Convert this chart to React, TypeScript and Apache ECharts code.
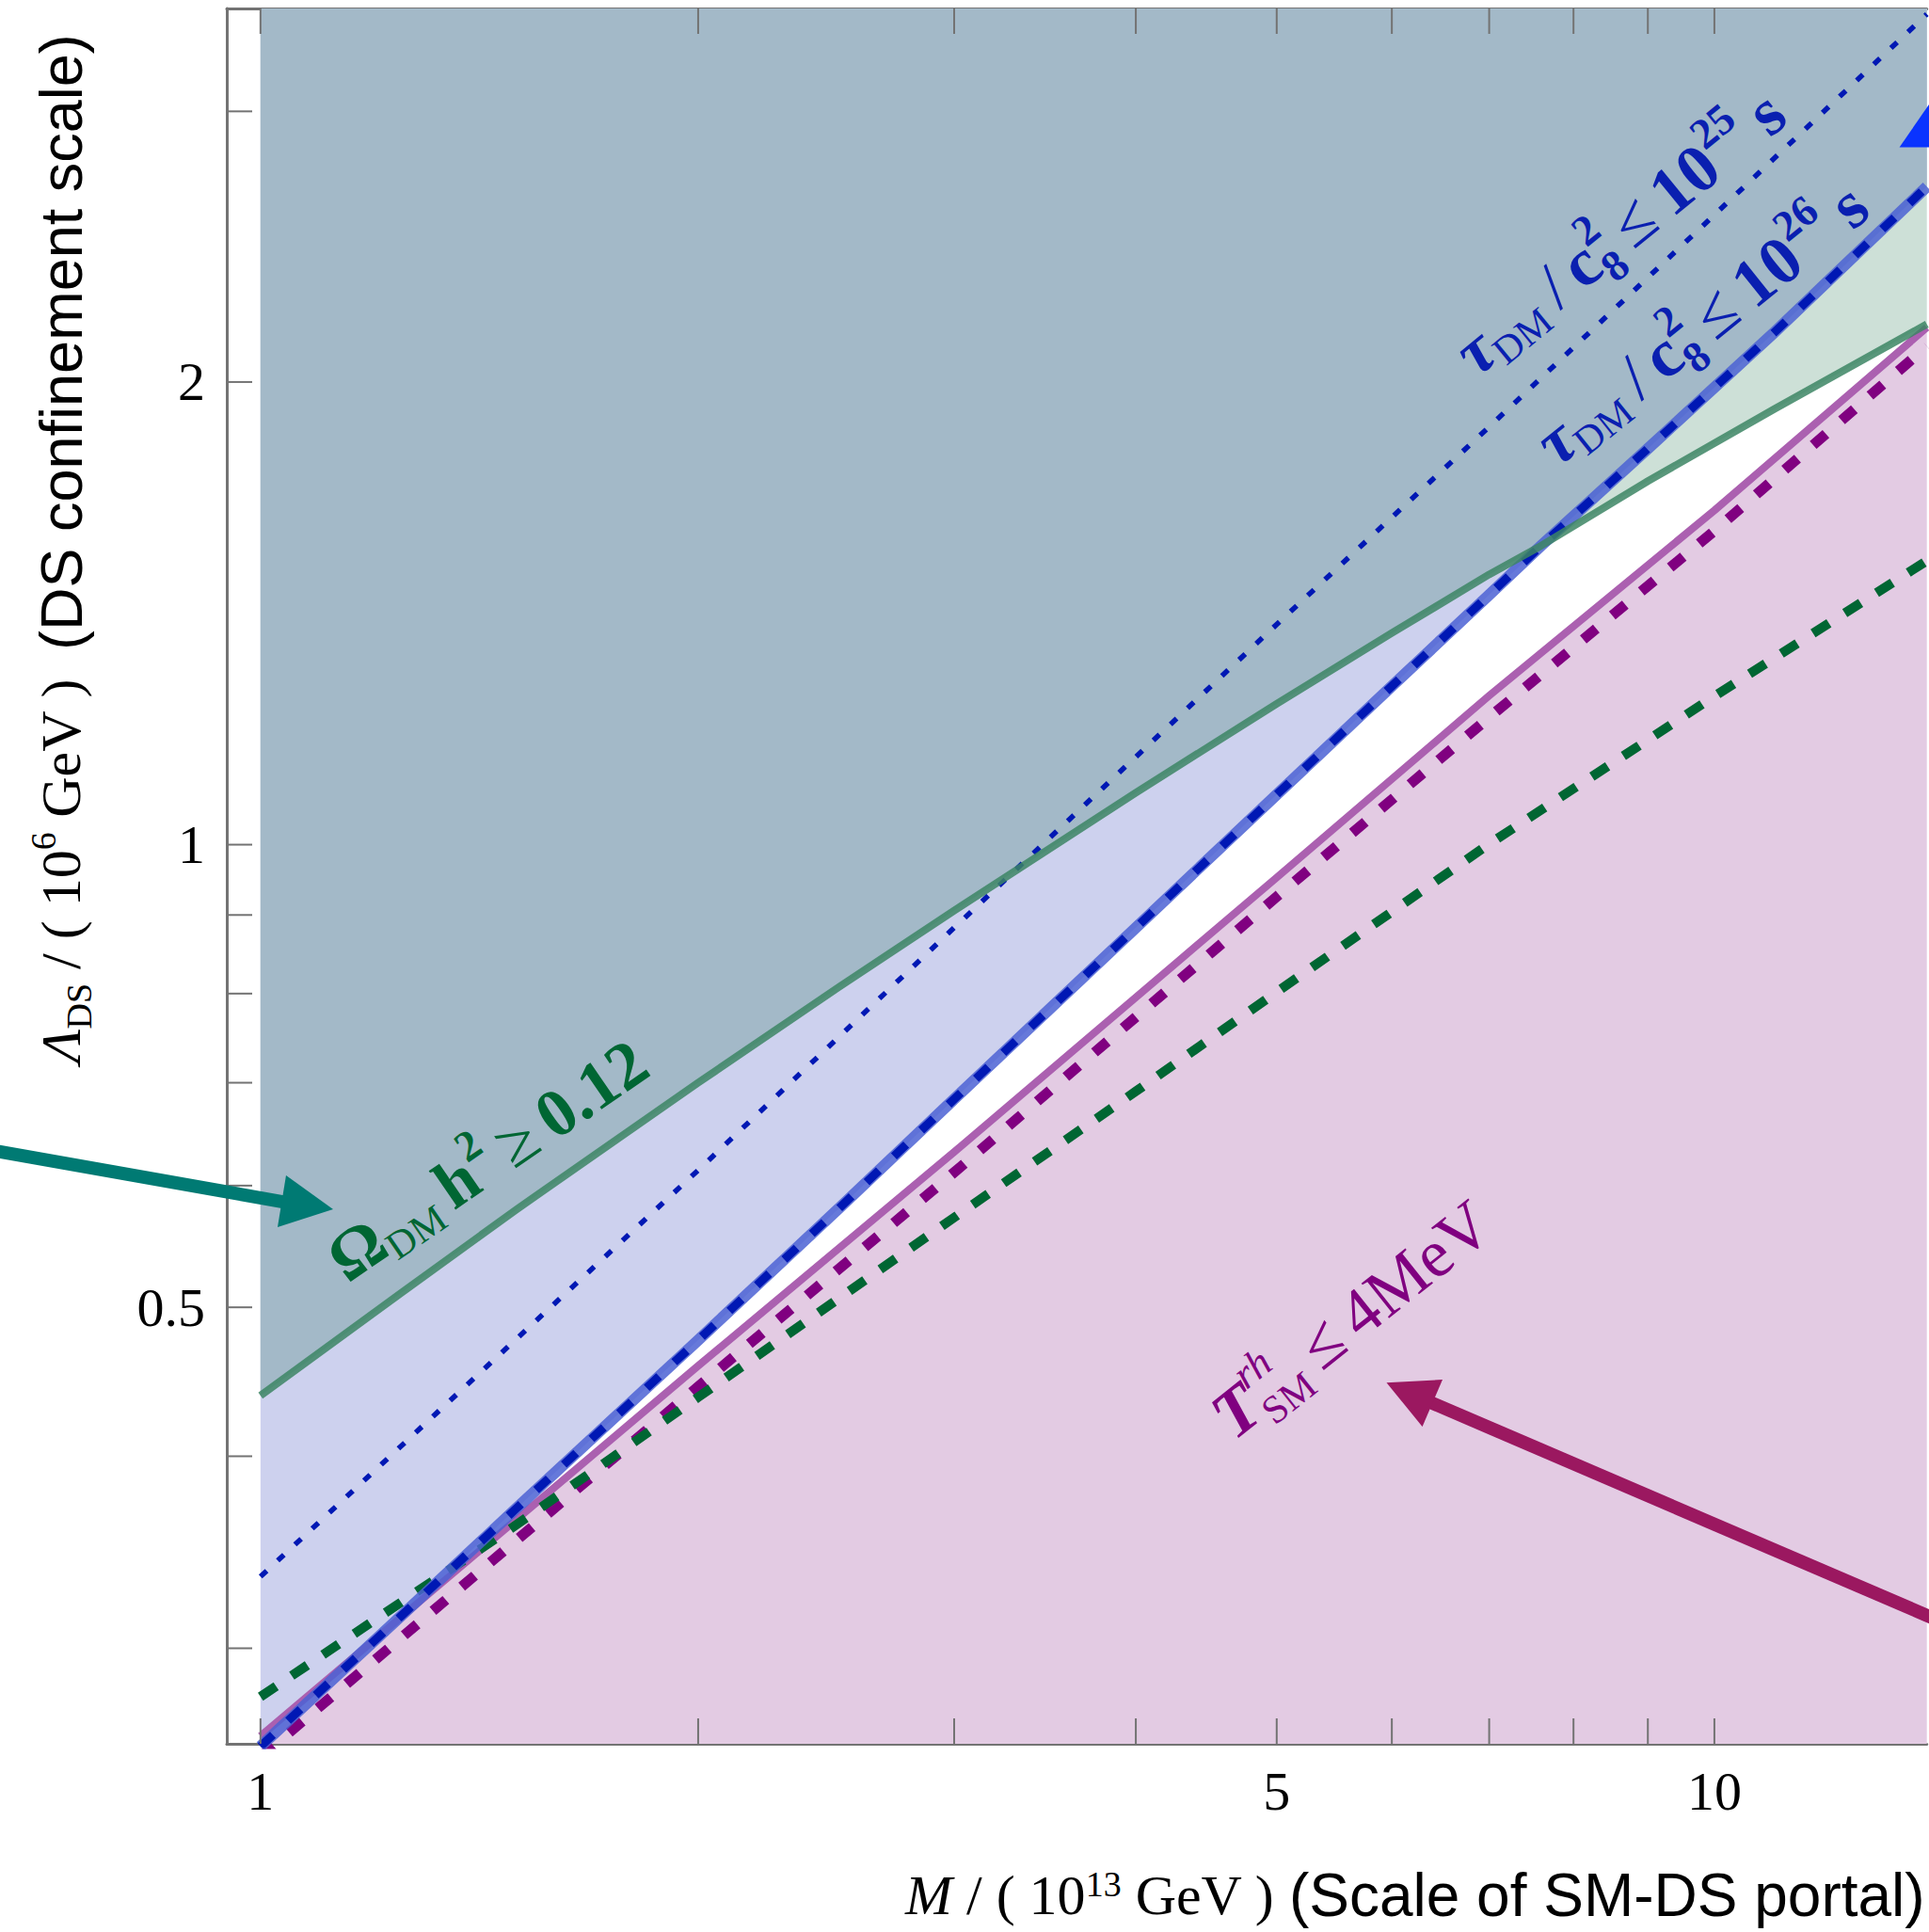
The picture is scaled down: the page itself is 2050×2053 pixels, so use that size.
import React, { useEffect, useRef } from 'react';
import * as echarts from 'echarts';

const SERIF = '"Liberation Serif", "DejaVu Serif", "Times New Roman", serif';
const SANS = '"Liberation Sans", Arial, Helvetica, sans-serif';

// axis ranges
const X_MIN = 0.948;
const X_MAX = 14;
const Y_MIN = 0.26;
const Y_MAX = 3.5;

// ticks
const xTickValues = [1, 2, 3, 4, 5, 6, 7, 8, 9, 10];
const xTickLabels = ['1', '', '', '', '5', '', '', '', '', '10'];
const yTickValues = [0.3, 0.4, 0.5, 0.6, 0.7, 0.8, 0.9, 1, 2, 3];
const yTickLabels = ['', '', '0.5', '', '', '', '', '1', '2', ''];

// relic abundance bound (green solid) and tau <= 1e26 s bound (blue dashed), same M grid
const relicX = [1, 1.25, 1.5, 2, 2.5, 3, 4, 5, 6, 7, 7.6, 9, 11, 14];
const relicY = [0.438, 0.511, 0.579, 0.7, 0.808, 0.906, 1.081, 1.235, 1.373, 1.499, 1.565, 1.724, 1.921, 2.181];
const tau26Y = [0.259, 0.315, 0.37, 0.476, 0.58, 0.683, 0.883, 1.078, 1.268, 1.454, 1.565, 1.81, 2.155, 2.68];

// tau <= 1e25 s (blue dotted)
const tau25X = [1, 2, 3, 5, 7, 10, 14];
const tau25Y = [0.334, 0.614, 0.883, 1.391, 1.87, 2.569, 3.47];

// reheating temperature bound (purple solid / purple dashed)
const bbnX = [1, 2, 3, 5, 7, 10, 14];
const bbnSolidY = [0.263, 0.458, 0.631, 0.952, 1.25, 1.65, 2.17];
const bbnDashedY = [0.255, 0.444, 0.612, 0.925, 1.21, 1.6, 2.11];

// green dashed
const greenDashX = [1, 1.5, 2, 3, 4, 5, 7, 10, 14];
const greenDashY = [0.279, 0.361, 0.437, 0.572, 0.691, 0.802, 1.001, 1.249, 1.53];

const AX = '#737373';
const TICK = 27;

const pairs = (xs: number[], ys: number[]) => xs.map((x, i) => [x, ys[i]]);
const deg = (d: number) => (d * Math.PI) / 180;

let measureCtx: CanvasRenderingContext2D | null = null;
function measure(t: string, font: string) {
  if (!measureCtx) measureCtx = document.createElement('canvas').getContext('2d');
  if (!measureCtx) return t.length * 30;
  measureCtx.font = font;
  return measureCtx.measureText(t).width;
}

type Piece = { t?: string; size?: number; bold?: boolean; italic?: boolean; dy?: number; adv?: number; gap?: number };

function mathGroup(x: number, y: number, rotDeg: number, color: string, pieces: Piece[]) {
  let cursor = 0;
  const items: any[] = [];
  for (const p of pieces) {
    if (p.gap) {
      cursor += p.gap;
      continue;
    }
    const font = `${p.italic ? 'italic ' : ''}${p.bold ? 'bold ' : ''}${p.size}px ${SERIF}`;
    const w = measure(p.t || '', font);
    items.push({ x: cursor, y: p.dy || 0, t: p.t, font });
    cursor += p.adv !== undefined ? p.adv : w;
  }
  const total = cursor;
  return {
    type: 'group',
    x,
    y,
    rotation: deg(rotDeg),
    z: 60,
    children: items.map((it) => ({
      type: 'text',
      z: 60,
      x: it.x - total / 2,
      y: it.y,
      style: {
        text: it.t,
        font: it.font,
        fill: color,
        align: 'left',
        verticalAlign: 'middle',
        textAlign: 'left',
        textVerticalAlign: 'middle',
      },
    })),
  };
}

function buildOption() {
  const overlap = relicX.map((x, i) => [x, Math.max(relicY[i], tau26Y[i])]);

  const areaSeries = (data: number[][], color: string, origin: string) => ({
    type: 'line',
    data,
    showSymbol: false,
    symbol: 'none',
    silent: true,
    lineStyle: { width: 0, opacity: 0 },
    areaStyle: { color, opacity: 1, origin },
    emphasis: { disabled: true },
  });

  const lineSeries = (data: number[][], color: string, width: number, type: any, z = 2) => ({
    type: 'line',
    data,
    showSymbol: false,
    symbol: 'none',
    silent: true,
    z,
    lineStyle: { color, width, type, cap: 'butt', join: 'round' },
    emphasis: { disabled: true },
  });

  const axisCommon = {
    type: 'log',
    logBase: 10,
    axisTick: { show: false },
    axisLabel: { show: false },
    splitLine: { show: false },
    minorTick: { show: false },
    minorSplitLine: { show: false },
  };

  const G_TXT = '#006633';
  const B_TXT = '#0a1fb0';
  const P_TXT = '#800080';

  const titleRich = (F: number, S: number, SF: number, LH: number) => ({
    n: { fontFamily: SERIF, fontSize: F, fill: '#000', lineHeight: LH },
    i: { fontFamily: SERIF, fontSize: F, fontStyle: 'italic', fill: '#000', lineHeight: LH },
    sub: { fontFamily: SERIF, fontSize: S, fill: '#000', lineHeight: S, verticalAlign: 'bottom' },
    supn: { fontFamily: SERIF, fontSize: S, fill: '#000', lineHeight: S, verticalAlign: 'top' },
    sans: { fontFamily: SANS, fontSize: SF, fill: '#000', lineHeight: LH },
  });

  const tauPieces = (exp: string): Piece[] => [
    { t: 'τ', size: 72, bold: true, italic: true },
    { t: 'DM', size: 42, dy: 20 },
    { gap: 14 },
    { t: '/', size: 72 },
    { gap: 12 },
    { t: 'c', size: 72, bold: true },
    { t: '2', size: 46, bold: true, dy: -25, adv: 0 },
    { t: '8', size: 46, bold: true, dy: 24 },
    { gap: 14 },
    { t: '≤', size: 72 },
    { gap: 14 },
    { t: '10', size: 72, bold: true },
    { t: exp, size: 46, bold: true, dy: -25 },
    { gap: 16 },
    { t: 's', size: 72, bold: true },
  ];

  return {
    animation: false,
    backgroundColor: '#ffffff',
    grid: { left: 241, top: 9, right: 2.3, bottom: 200, containLabel: false },
    xAxis: [
      { ...axisCommon, min: X_MIN, max: X_MAX, position: 'bottom', axisLine: { show: true, onZero: false, lineStyle: { color: AX, width: 3 } } },
      { ...axisCommon, min: X_MIN, max: X_MAX, position: 'top', axisLine: { show: true, onZero: false, lineStyle: { color: AX, width: 3 } } },
    ],
    yAxis: [
      { ...axisCommon, min: Y_MIN, max: Y_MAX, position: 'left', axisLine: { show: true, onZero: false, lineStyle: { color: AX, width: 3 } } },
    ],
    series: [
      // fills
      areaSeries(pairs(bbnX, bbnSolidY), '#e3cbe3', 'start'),
      areaSeries(pairs(relicX, relicY), '#cde0d7', 'end'),
      areaSeries(pairs(relicX, tau26Y), '#cdd1ee', 'end'),
      areaSeries(overlap, '#a3b9c8', 'end'),
      // lines
      lineSeries(pairs(bbnX, bbnSolidY), '#ab60b0', 8, 'solid', 3),
      lineSeries(pairs(bbnX, bbnDashedY), '#800080', 11, [18, 22], 4),
      lineSeries(pairs(greenDashX, greenDashY), '#006633', 10, [20, 20], 5),
      lineSeries(pairs(relicX, tau26Y), 'rgba(75,97,212,0.85)', 12, 'solid', 6),
      lineSeries(pairs(relicX, tau26Y), '#0018b4', 9, [18, 22], 7),
      lineSeries(pairs(tau25X, tau25Y), '#0018b4', 5.5, [9, 16], 7),
      lineSeries(pairs(relicX, relicY), 'rgba(60,133,100,0.85)', 8, 'solid', 8),
      // x ticks and labels
      {
        type: 'custom',
        coordinateSystem: 'cartesian2d',
        xAxisIndex: 0,
        yAxisIndex: 0,
        z: 20,
        silent: true,
        clip: false,
        data: xTickValues.map((v) => [v, Y_MIN]),
        renderItem: (params: any, api: any) => {
          const v = api.value(0);
          const b = api.coord([v, Y_MIN]);
          const t = api.coord([v, Y_MAX]);
          const children: any[] = [
            { type: 'line', shape: { x1: b[0], y1: b[1], x2: b[0], y2: b[1] - TICK }, style: { stroke: AX, lineWidth: 2 } },
            { type: 'line', shape: { x1: t[0], y1: t[1], x2: t[0], y2: t[1] + TICK }, style: { stroke: AX, lineWidth: 2 } },
          ];
          const lab = xTickLabels[params.dataIndex];
          if (lab) {
            children.push({
              type: 'text',
              x: b[0],
              y: b[1] + 50,
              style: { text: lab, fontFamily: SERIF, fontSize: 58, fill: '#000', align: 'center', verticalAlign: 'middle', textAlign: 'center', textVerticalAlign: 'middle' },
            });
          }
          return { type: 'group', children };
        },
      },
      // y ticks and labels
      {
        type: 'custom',
        coordinateSystem: 'cartesian2d',
        xAxisIndex: 0,
        yAxisIndex: 0,
        z: 20,
        silent: true,
        clip: false,
        data: yTickValues.map((v) => [X_MIN, v]),
        renderItem: (params: any, api: any) => {
          const v = api.value(1);
          const l = api.coord([X_MIN, v]);
          const children: any[] = [
            { type: 'line', shape: { x1: l[0], y1: l[1], x2: l[0] + TICK, y2: l[1] }, style: { stroke: AX, lineWidth: 2 } },
          ];
          const lab = yTickLabels[params.dataIndex];
          if (lab) {
            children.push({
              type: 'text',
              x: l[0] - 23,
              y: l[1],
              style: { text: lab, fontFamily: SERIF, fontSize: 58, fill: '#000', align: 'right', verticalAlign: 'middle', textAlign: 'right', textVerticalAlign: 'middle' },
            });
          }
          return { type: 'group', children };
        },
      },
    ],
    graphic: [
      // teal arrow
      { type: 'line', z: 50, shape: { x1: -10, y1: 1222.2, x2: 302, y2: 1277.3 }, style: { stroke: '#007a73', lineWidth: 14 } },
      { type: 'polygon', z: 50, shape: { points: [[304, 1249], [295, 1304], [354, 1285]] }, style: { fill: '#007a73' } },
      // magenta arrow
      { type: 'line', z: 50, shape: { x1: 1519, y1: 1489.6, x2: 2065, y2: 1724 }, style: { stroke: '#9b1860', lineWidth: 14 } },
      { type: 'polygon', z: 50, shape: { points: [[1473.5, 1469.3], [1533, 1466], [1511.6, 1516]] }, style: { fill: '#9b1860' } },
      // partial blue arrow head at top right
      { type: 'polygon', z: 50, shape: { points: [[2018.6, 156.5], [2052, 108], [2052, 156.5]] }, style: { fill: '#0a33ff' } },
      // Omega label
      mathGroup(518, 1233, 34.5, G_TXT, [
        { t: 'Ω', size: 72, bold: true },
        { t: 'DM', size: 42, dy: 20 },
        { gap: 12 },
        { t: 'h', size: 72, bold: true },
        { t: '2', size: 46, bold: true, dy: -25 },
        { gap: 14 },
        { t: '≥', size: 72 },
        { gap: 14 },
        { t: '0.12', size: 72, bold: true },
      ]),
      // tau labels
      mathGroup(1721, 247, 39.3, B_TXT, tauPieces('25')),
      mathGroup(1808, 344, 38.8, B_TXT, tauPieces('26')),
      // reheating temperature label
      mathGroup(1436, 1402, 38.5, P_TXT, [
        { t: 'T', size: 72, bold: true, italic: true },
        { t: 'rh', size: 44, italic: true, dy: -25, adv: 0 },
        { t: 'SM', size: 42, dy: 24 },
        { gap: 14 },
        { t: '≤', size: 72 },
        { gap: 14 },
        { t: '4MeV', size: 72 },
      ]),
      // y axis title
      {
        type: 'text',
        z: 60,
        x: 65,
        y: 583,
        rotation: Math.PI / 2,
        style: {
          text: '{i|Λ}{sub|DS}{n| / ( 10}{supn|6}{n| GeV )  }{sans|(DS confinement scale)}',
          fill: '#000',
          align: 'center',
          verticalAlign: 'middle',
          textAlign: 'center',
          textVerticalAlign: 'middle',
          rich: titleRich(60, 38, 63, 76),
        },
      },
      // x axis title
      {
        type: 'text',
        z: 60,
        x: 962,
        y: 2014,
        style: {
          text: '{i|M}{n| / ( 10}{supn|13}{n| GeV ) }{sans|(Scale of SM-DS portal)}',
          fill: '#000',
          align: 'left',
          verticalAlign: 'middle',
          textAlign: 'left',
          textVerticalAlign: 'middle',
          rich: titleRich(60, 38, 64, 62),
        },
      },
    ],
  };
}

export default function App() {
  const ref = useRef<HTMLDivElement>(null);
  useEffect(() => {
    if (!ref.current) return;
    const chart = echarts.init(ref.current, null, { renderer: 'svg' });
    chart.setOption(buildOption() as any);
    return () => {
      chart.dispose();
    };
  }, []);
  return (
    <div
      ref={ref}
      style={{ position: 'fixed', left: 0, top: 0, width: 2050, height: 2053, background: '#ffffff' }}
    />
  );
}
